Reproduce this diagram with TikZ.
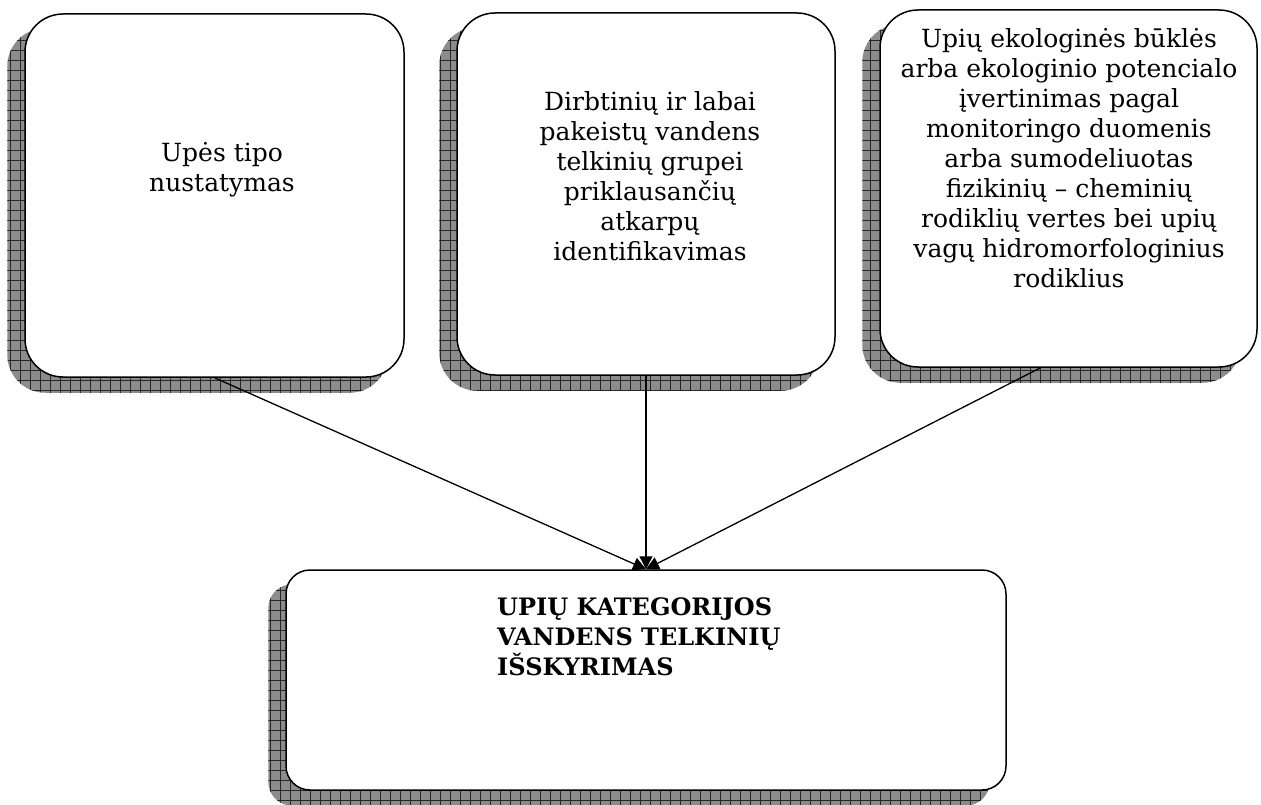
\documentclass[tikz,border=0pt]{standalone}
\usepackage{fontspec}
\setmainfont{DejaVu Serif}
\usetikzlibrary{arrows.meta,backgrounds,calc}

% hatched drop shadow behind a rounded box: #1 node, #2 corner radius
\newcommand\boxshadow[2]{%
  \begin{scope}
    \clip[rounded corners=#2] ($(#1.north west)+(-17,15)$) rectangle ($(#1.south east)+(-17,15)$);
    \fill[shadowfill] ($(#1.north west)+(-17,15)$) rectangle ($(#1.south east)+(-17,15)$);
    \draw[shadowgrid] ($(#1.north west)+(-40,0)$) grid ($(#1.south east)+(0,40)$);
  \end{scope}}

\begin{document}
\begin{tikzpicture}[x=1pt,y=-1pt,
  box/.style={draw,line width=1.5pt,fill=white,rectangle,inner sep=0pt},
  topbox/.style={box,rounded corners=38pt},
  txt/.style={align=center,inner sep=0pt,font=\fontsize{25}{30}\selectfont},
  boldtxt/.style={align=left,inner sep=0pt,font=\fontsize{24}{30}\selectfont\bfseries},
  link/.style={line width=1.3pt,-{Triangle[length=13pt,width=13pt]}},
  shadowfill/.style={fill=black!45},
  shadowgrid/.style={step=10pt,line width=0.6pt,draw=black!85}]
\useasboundingbox (0,0) rectangle (1261,805);

% boxes
\node[topbox,minimum width=379pt,minimum height=363pt] (b1) at (214.5,195.5) {};
\node[topbox,minimum width=378pt,minimum height=362pt] (b2) at (646,194) {};
\node[topbox,minimum width=377pt,minimum height=357pt] (b3) at (1068.5,188.5) {};
\node[box,rounded corners=24pt,minimum width=720pt,minimum height=220pt] (b4) at (646,680) {};

% shadows
\begin{pgfonlayer}{background}
  \boxshadow{b1}{38pt}
  \boxshadow{b2}{38pt}
  \boxshadow{b3}{38pt}
  \boxshadow{b4}{24pt}
\end{pgfonlayer}

% texts
\node[txt] (t1) at (222,170) {Upės tipo\\nustatymas};
\node[txt] (t2) at (650,176) {Dirbtinių ir labai\\pakeistų vandens\\telkinių grupei\\priklausančių\\atkarpų\\identifikavimas};
\node[txt] (t3) at (1069,158) {Upių ekologinės būklės\\arba ekologinio potencialo\\įvertinimas pagal\\monitoringo duomenis\\arba sumodeliuotas\\fizikinių – cheminių\\rodiklių vertes bei upių\\vagų hidromorfologinius\\rodiklius};
\node[boldtxt,anchor=west] (t4) at (497,637) {UPIŲ KATEGORIJOS\\VANDENS TELKINIŲ\\IŠSKYRIMAS};

% connectors
\coordinate (s3) at ($(b3.south)+(-28,0)$);
\draw[link] (b1.south) -- (b4.north);
\draw[link] (b2.south) -- (b4.north);
\draw[link] (s3) -- (b4.north);
\end{tikzpicture}
\end{document}
